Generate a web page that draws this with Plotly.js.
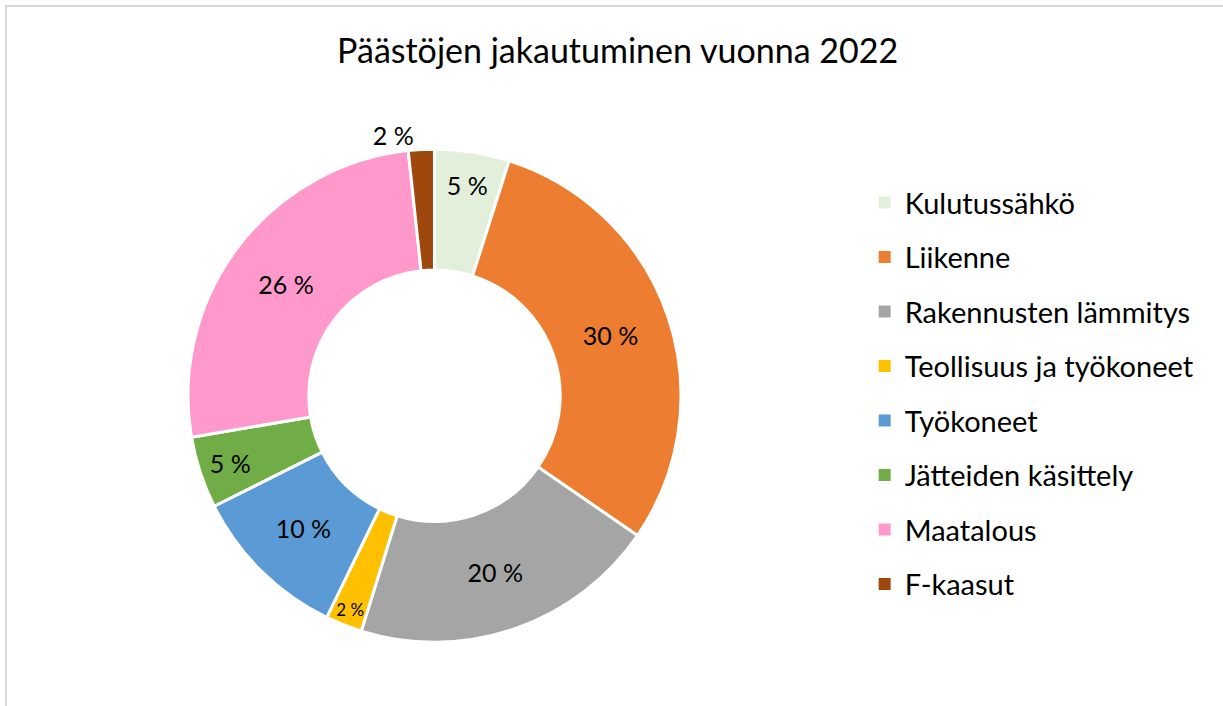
<!DOCTYPE html>
<html>
<head>
<meta charset="utf-8">
<script src="https://cdn.plot.ly/plotly-3.0.1.min.js"></script>
<style>
html,body{margin:0;padding:0;background:#fff;}
#chart{width:1223px;height:706px;position:relative;}
#frame{position:absolute;left:5px;top:5px;width:1400px;height:900px;border-left:2px solid #d9d9d9;border-top:2px solid #d9d9d9;pointer-events:none;}
</style>
</head>
<body>
<div id="chart"></div>
<div id="frame"></div>
<script>
const categories = ["Kulutussähkö","Liikenne","Rakennusten lämmitys","Teollisuus ja työkoneet","Työkoneet","Jätteiden käsittely","Maatalous","F-kaasut"];
const shares = [4.9, 29.7, 20.2, 2.4, 10.4, 4.7, 26.0, 1.7];
const colors = ["#E2EFDA","#ED7D31","#A5A5A5","#FFC000","#5B9BD5","#70AD47","#FF99CC","#9E480E"];
const titleText = "Päästöjen jakautuminen vuonna 2022";

const total = shares.reduce((a,b)=>a+b,0);
const labelsText = shares.map(v => Math.round(v/total*100) + " %");
const positions = shares.map((v,i) => i === shares.length-1 ? "outside" : "inside");

const FONT = "Lato, 'Open Sans', sans-serif";

const traces = [{
  type: "pie",
  values: shares,
  labels: categories,
  text: labelsText,
  textinfo: "text",
  textposition: positions,
  insidetextorientation: "horizontal",
  hole: 0.51,
  sort: false,
  direction: "clockwise",
  rotation: 0,
  marker: {colors: colors, line: {color: "#ffffff", width: 3}},
  textfont: {family: FONT, size: 25, color: "#000000"},
  outsidetextfont: {family: FONT, size: 25, color: "#000000"},
  domain: {x: [0.1537, 0.5568], y: [0.0895, 0.7895]},
  showlegend: false,
  hoverinfo: "label+percent"
}];

categories.forEach((c,i) => {
  traces.push({
    type: "scatter", mode: "markers",
    x: [null], y: [null],
    name: c, legendgroup: "g"+i,
    marker: {symbol: "square", size: 12, color: colors[i]},
    showlegend: true, hoverinfo: "skip"
  });
});

const layout = {
  width: 1223, height: 706,
  margin: {l:0, r:0, t:0, b:0},
  paper_bgcolor: "#ffffff", plot_bgcolor: "#ffffff",
  title: {text: titleText, x: 0.505, xanchor: "center", y: 0.928, yanchor: "middle",
          font: {family: FONT, size: 34, color: "#000000"}},
  xaxis: {visible: false}, yaxis: {visible: false},
  showlegend: true,
  legend: {x: 0.707, xanchor: "left", y: 0.749, yanchor: "top",
           font: {family: FONT, size: 29, color: "#000000"},
           tracegroupgap: 13.8, bgcolor: "rgba(0,0,0,0)", itemclick: false}
};

Plotly.newPlot("chart", traces, layout, {displayModeBar: false, staticPlot: true});
</script>
</body>
</html>
